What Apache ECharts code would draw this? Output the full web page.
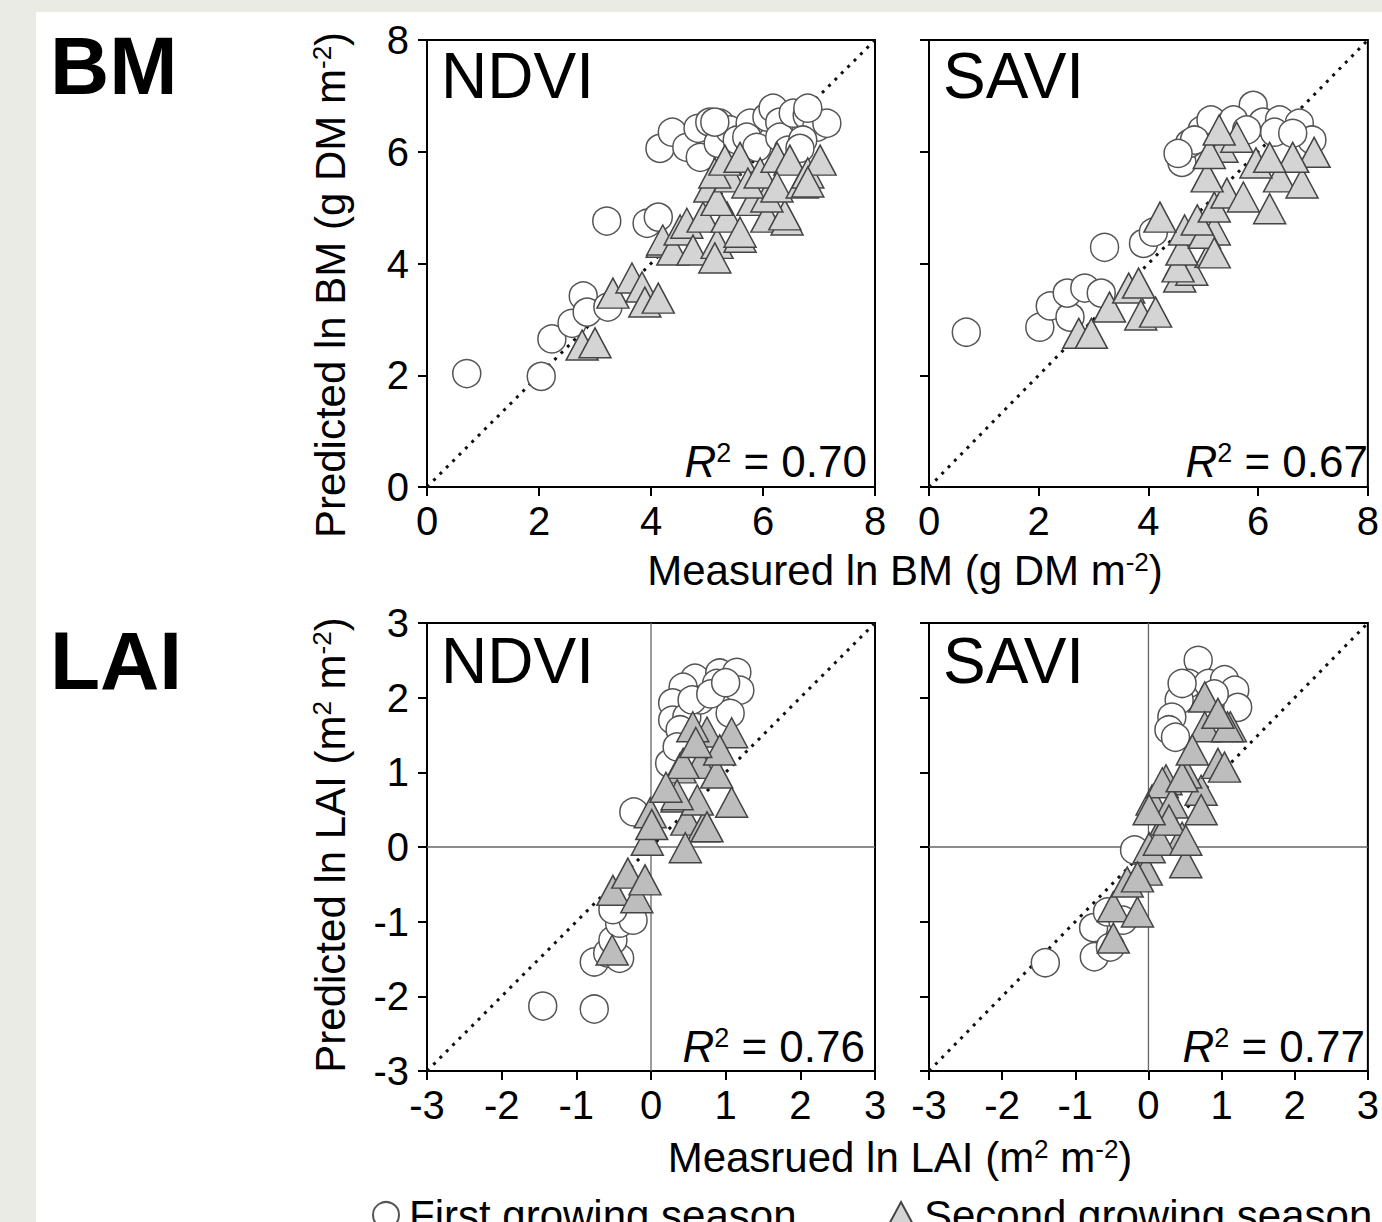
<!DOCTYPE html>
<html><head><meta charset="utf-8">
<script src="https://cdn.jsdelivr.net/npm/echarts@6/dist/echarts.min.js"></script>
<style>
html,body{margin:0;padding:0;background:#ebebe6;width:1382px;height:1222px;overflow:hidden}
#paper{position:absolute;left:36px;top:12px;width:1346px;height:1210px;background:#fff}
#chart{position:absolute;left:0;top:0;width:1382px;height:1222px}
</style></head><body><div id="paper"></div><div id="chart"></div>
<script>
// ---------- data ----------
var bmTicks = [0, 2, 4, 6, 8];
var laiTicks = [-3, -2, -1, 0, 1, 2, 3];
var seriesNames = ['First growing season', 'Second growing season'];
var panelLabels = ['NDVI', 'SAVI', 'NDVI', 'SAVI'];
var r2Values = ['0.70', '0.67', '0.76', '0.77'];

var bmNdviFirst = [[0.71,2.03],[2.04,1.98],[2.23,2.65],[2.59,2.93],[2.79,3.42],[2.86,3.13],[3.23,3.22],[3.21,4.76],[3.93,4.72],[4.13,4.83],
  [4.16,6.06],[4.38,6.35],[4.64,6.08],[4.84,6.42],[5.05,6.53],[5.23,6.51],[4.88,5.90],[5.20,6.15],[5.41,6.39],[5.54,6.21],[5.77,6.51],[5.71,6.26],
  [5.89,6.08],[6.07,6.62],[6.18,6.78],[6.30,6.53],[6.30,6.26],[6.45,6.03],[6.54,6.69],[6.79,6.65],[6.96,6.44],[6.71,6.21],[7.14,6.51],[6.80,6.78],[6.66,6.06],[5.14,6.53]];
var bmNdviSecond = [[2.77,2.54],[3.00,2.58],[3.32,3.47],[3.66,3.74],[3.84,3.58],[3.89,3.31],[4.13,3.38],[4.20,4.38],[4.21,4.42],[4.39,4.24],[4.52,4.60],
  [4.64,4.72],[4.75,4.24],[4.93,4.83],[5.18,4.36],[5.14,4.10],[5.36,4.83],[5.59,4.47],[5.59,4.56],[5.82,5.13],[6.07,4.83],[6.43,4.78],[6.39,4.87],
  [6.07,5.19],[5.05,5.37],[5.18,5.13],[5.41,5.55],[5.14,5.62],[5.32,5.85],[5.59,5.90],[5.73,5.44],[5.95,5.62],[6.25,5.90],[6.48,5.85],[6.25,5.37],
  [6.70,5.44],[6.80,5.62],[7.02,5.85],[6.80,5.46]];
var bmSaviFirst = [[0.68,2.77],[2.02,2.86],[2.21,3.24],[2.57,3.04],[2.52,3.47],[2.84,3.56],[3.14,3.47],[3.20,4.29],[3.91,4.36],[4.09,4.56],
  [5.91,6.83],[4.61,5.81],[4.75,6.15],[4.98,6.39],[5.14,6.57],[5.55,6.57],[6.09,6.53],[6.39,6.57],[6.75,6.51],[6.98,6.21],[6.30,6.35],[4.84,6.21],
  [5.79,6.39],[6.63,6.33],[4.54,5.97]];
var bmSaviSecond = [[2.73,2.75],[2.96,2.75],[3.29,3.22],[3.64,3.56],[3.82,3.65],[3.86,3.08],[4.13,3.13],[4.57,3.76],[4.61,4.06],[4.79,3.88],
  [5.14,4.20],[5.20,4.60],[4.54,3.94],[4.61,4.24],[4.66,4.60],[5.02,4.54],[5.20,4.19],[4.21,4.83],[4.89,4.78],[5.20,5.01],[5.43,5.26],[5.73,5.19],
  [6.21,4.98],[6.39,5.55],[6.80,5.44],[5.96,5.80],[7.02,5.99],[6.63,5.90],[6.21,5.90],[5.07,5.55],[5.34,6.08],[5.61,6.26],[5.11,5.97],[5.29,6.39]];
var laiNdviFirst = [[-1.45,-2.13],[-0.76,-2.17],[-0.76,-1.54],[-0.58,-1.42],[-0.42,-1.49],[-0.51,-1.25],[-0.42,-1.02],[-0.24,-0.98],[-0.51,-0.84],[-0.23,0.47],
  [0.76,2.17],[0.59,2.26],[0.92,2.33],[1.15,2.34],[1.19,2.10],[0.43,2.14],[0.29,1.93],[0.29,1.70],[0.48,1.74],[0.39,1.57],[1.06,1.79],[0.25,1.12],
  [0.66,1.97],[0.88,2.19],[0.55,1.97],[0.35,1.34],[0.80,2.05],[1.00,2.20]];
var laiNdviSecond = [[-0.52,-1.38],[-0.51,-0.58],[-0.31,-0.35],[-0.19,-0.68],[-0.08,-0.44],[-0.05,0.09],[-0.01,0.46],[0.01,0.30],[0.35,0.67],
  [0.48,0.36],[0.70,0.27],[0.46,-0.01],[1.08,0.60],[0.39,1.06],[0.66,1.12],[0.43,1.12],[0.75,1.54],[1.08,1.53],[0.56,1.61],[0.88,0.99],[0.92,1.30],
  [0.62,0.63],[0.75,0.27],[0.35,0.70],[0.20,0.80],[0.60,1.40]];
var laiSaviFirst = [[-1.41,-1.55],[-0.74,-1.47],[-0.75,-1.08],[-0.56,-0.87],[-0.52,-1.34],[-0.35,-0.98],[-0.19,-0.04],[0.68,2.50],[0.55,2.19],
  [0.82,2.19],[1.04,2.24],[1.18,2.10],[0.42,1.97],[0.32,1.74],[0.28,1.57],[0.46,2.19],[1.22,1.87],[0.37,1.47],[0.90,2.05]];
var laiSaviSecond = [[-0.48,-1.22],[-0.48,-0.80],[-0.15,-0.87],[-0.29,-0.47],[-0.03,-0.31],[0.01,-0.01],[0.51,-0.21],[0.46,0.13],[0.24,0.36],
  [0.05,0.63],[0.24,0.90],[0.72,0.76],[0.72,0.50],[0.95,1.12],[1.12,1.61],[0.77,2.01],[0.77,1.61],[1.08,1.61],[0.95,1.79],[1.04,1.07],[0.51,0.99],
  [0.19,0.86],[0.32,0.59],[0.46,0.94],[0.15,0.09],[0.28,0.36],[0.01,0.50],[0.51,0.09],[-0.15,-0.40],[0.60,1.30]];

// ---------- chart ----------
var FONT = '"Liberation Sans", Arial, Helvetica, sans-serif';
var chart = echarts.init(document.getElementById('chart'), null, {renderer: 'svg'});

var grids = [
  {left: 427, top: 40, width: 448, height: 447},
  {left: 929, top: 40, width: 448, height: 447},
  {left: 427, top: 623, width: 448, height: 448},
  {left: 929, top: 623, width: 448, height: 448}
];
grids.forEach(function (g) { g.show = true; g.borderColor = '#000'; g.borderWidth = 2; g.backgroundColor = 'transparent'; });

function axis(i, ticks, showLabel, isX) {
  return {
    gridIndex: i, type: 'value',
    min: ticks[0], max: ticks[ticks.length - 1], interval: ticks[1] - ticks[0],
    axisLine: {show: true, onZero: false, lineStyle: {color: '#000', width: 2}},
    axisTick: {show: true, inside: false, length: 9, lineStyle: {color: '#000', width: 2}},
    axisLabel: {show: showLabel, color: '#000', fontSize: 40, fontFamily: FONT, margin: isX ? 14 : 18},
    splitLine: {show: false}
  };
}
var xAxes = [axis(0, bmTicks, true, true), axis(1, bmTicks, true, true), axis(2, laiTicks, true, true), axis(3, laiTicks, true, true)];
var yAxes = [axis(0, bmTicks, true, false), axis(1, bmTicks, false, false), axis(2, laiTicks, true, false), axis(3, laiTicks, false, false)];

var panelData = [
  [bmNdviFirst, bmNdviSecond, bmTicks, '#d4d4d4'],
  [bmSaviFirst, bmSaviSecond, bmTicks, '#d4d4d4'],
  [laiNdviFirst, laiNdviSecond, laiTicks, '#bdbdbd'],
  [laiSaviFirst, laiSaviSecond, laiTicks, '#bdbdbd']
];

var series = [];
panelData.forEach(function (p, i) {
  var lo = p[2][0], hi = p[2][p[2].length - 1];
  if (lo < 0) {
    series.push({type: 'line', xAxisIndex: i, yAxisIndex: i, data: [[lo, 0], [hi, 0]], symbol: 'none', silent: true,
      lineStyle: {color: '#666', width: 1.3}, z: 1});
    series.push({type: 'line', xAxisIndex: i, yAxisIndex: i, data: [[0, lo], [0, hi]], symbol: 'none', silent: true,
      lineStyle: {color: '#666', width: 1.3}, z: 1});
  }
  series.push({type: 'line', xAxisIndex: i, yAxisIndex: i, data: [[lo, lo], [hi, hi]], symbol: 'none', silent: true,
    lineStyle: {color: '#111', width: 3, type: [3, 6]}, z: 1});
  series.push({type: 'scatter', name: seriesNames[0], xAxisIndex: i, yAxisIndex: i, data: p[0], symbol: 'circle', symbolSize: 28,
    itemStyle: {color: '#fff', borderColor: '#555', borderWidth: 1.5, opacity: 1}, z: 3});
  series.push({type: 'scatter', name: seriesNames[1], xAxisIndex: i, yAxisIndex: i, data: p[1], symbol: 'triangle', symbolSize: [32, 30],
    itemStyle: {color: p[3], borderColor: '#444', borderWidth: 1.5, opacity: 1}, z: 4});
});

function txt(x, y, content, rich, opts) {
  opts = opts || {};
  return {
    type: 'text', x: x, y: y, rotation: opts.rotation || 0, z: 100,
    style: {
      text: content, rich: rich, fill: '#000', fontFamily: FONT, fontSize: opts.fontSize || 42, fontWeight: opts.fontWeight || 'normal',
      textAlign: opts.align || 'left', align: opts.align || 'left',
      textVerticalAlign: 'middle', verticalAlign: 'middle'
    }
  };
}
function supRich(size, supSize) {
  return {
    n: {fontSize: size, fontFamily: FONT, fill: '#000', lineHeight: size},
    i: {fontSize: size, fontFamily: FONT, fontStyle: 'italic', fill: '#000', lineHeight: size},
    s: {fontSize: supSize, fontFamily: FONT, fill: '#000', verticalAlign: 'top', lineHeight: supSize}
  };
}

var graphics = [
  txt(50, 65, 'BM', null, {fontSize: 82, fontWeight: 'bold'}),
  txt(50, 660, 'LAI', null, {fontSize: 82, fontWeight: 'bold'}),
  txt(330, 285, '{n|Predicted ln BM (g DM m}{s|-2}{n|)}', supRich(42, 26), {rotation: Math.PI / 2, align: 'center'}),
  txt(330, 845, '{n|Predicted ln LAI (m}{s|2}{n| m}{s|-2}{n|)}', supRich(42, 26), {rotation: Math.PI / 2, align: 'center'}),
  txt(905, 570, '{n|Measured ln BM (g DM m}{s|-2}{n|)}', supRich(42, 26), {align: 'center'}),
  txt(900, 1157, '{n|Measrued ln LAI (m}{s|2}{n| m}{s|-2}{n|)}', supRich(42, 26), {align: 'center'})
];
var labelPos = [[441, 76], [943, 76], [441, 661], [943, 661]];
var r2Pos = [[867, 461], [1368, 461], [865, 1046], [1365, 1046]];
panelLabels.forEach(function (t, i) {
  graphics.push(txt(labelPos[i][0], labelPos[i][1], t, null, {fontSize: 64}));
  graphics.push(txt(r2Pos[i][0], r2Pos[i][1], '{i|R}{s|2}{n| = ' + r2Values[i] + '}', supRich(44, 27), {align: 'right'}));
});

function legendFor(name, icon, left) {
  return {
    data: [{name: name, icon: icon}], left: left, top: 1194, itemWidth: 28, itemHeight: 26, selectedMode: false,
    padding: 0, textStyle: {fontSize: 42, fontFamily: FONT, color: '#000', padding: [0, 0, 0, 4]}
  };
}

chart.setOption({
  animation: false,
  backgroundColor: 'transparent',
  grid: grids,
  xAxis: xAxes,
  yAxis: yAxes,
  series: series,
  graphic: graphics,
  legend: [legendFor(seriesNames[0], 'circle', 372), legendFor(seriesNames[1], 'triangle', 886)]
});
</script></body></html>
